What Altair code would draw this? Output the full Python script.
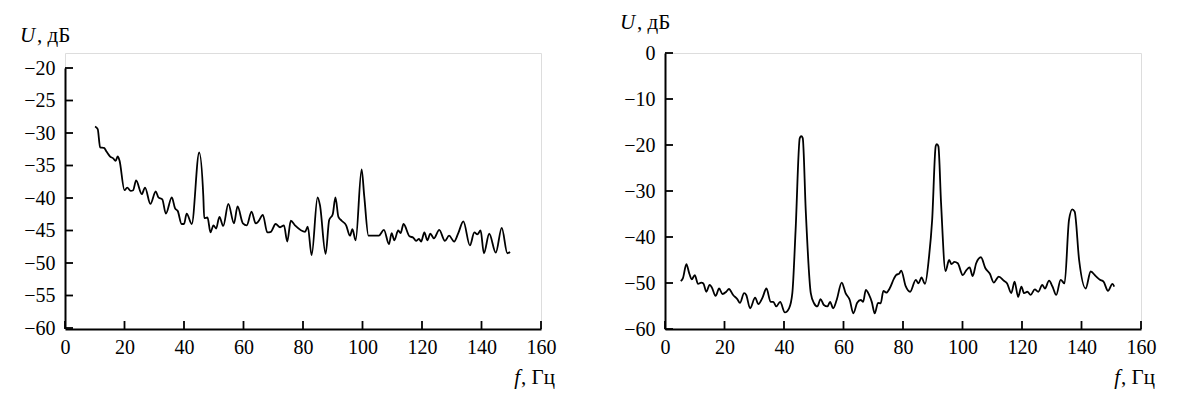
import altair as alt
import pandas as pd

# ---- data ----
left_f = [10.1, 11.0, 11.8, 13.1, 14.0, 15.1, 16.2, 17.0, 17.7, 18.3, 20.0, 20.9, 22.1, 22.9, 23.9,
          25.8, 26.9, 28.7, 30.5, 31.4, 32.7, 33.9, 35.9, 37.0, 37.9, 39.2, 40.0, 40.9, 42.6, 45.1,
          46.5, 46.8, 47.9, 48.9, 49.9, 50.8, 51.9, 53.2, 54.9, 56.8, 58.0, 59.8, 61.1, 62.7, 64.1,
          65.0, 66.5, 68.0, 69.2, 70.8, 72.3, 73.6, 74.7, 75.9, 77.3, 80.7, 81.6, 82.9, 84.9, 85.7,
          87.6, 88.8, 90.0, 90.9, 91.9, 93.0, 94.5, 95.8, 96.6, 97.7, 99.7, 100.6, 102.0, 103.6,
          105.5, 107.2, 108.9, 109.8, 110.7, 112.0, 112.8, 113.8, 115.8, 117.1, 118.0, 119.0, 119.7,
          120.8, 121.8, 122.8, 124.0, 125.8, 127.7, 129.1, 130.8, 132.2, 133.9, 136.1, 137.6, 138.6,
          139.7, 140.8, 142.6, 144.8, 146.8, 148.7, 149.6]
left_u = [-29.0, -29.4, -32.2, -32.3, -32.9, -33.6, -33.9, -34.3, -33.6, -34.2, -38.8, -38.4, -38.9, -38.8, -37.3,
          -39.4, -38.4, -40.9, -39.0, -39.9, -40.2, -42.4, -39.9, -41.6, -42.0, -44.0, -44.0, -42.4, -44.0, -33.0,
          -39.8, -43.1, -43.0, -45.3, -44.2, -44.7, -42.9, -44.3, -40.9, -43.9, -41.3, -43.9, -44.2, -42.1, -43.9,
          -43.6, -42.6, -45.3, -45.2, -44.0, -44.5, -44.2, -46.7, -43.5, -44.2, -45.2, -44.4, -48.8, -39.9, -41.1,
          -48.6, -43.4, -42.5, -39.9, -42.9, -43.5, -44.2, -45.8, -44.8, -46.5, -35.6, -39.8, -45.8, -45.8,
          -45.8, -44.9, -47.1, -45.4, -46.5, -45.0, -45.4, -44.0, -45.9, -46.1, -46.6, -46.3, -46.7,
          -45.3, -46.5, -45.5, -46.2, -44.9, -46.6, -45.8, -46.7, -45.4, -43.6, -47.3, -45.3, -45.6,
          -45.0, -48.5, -45.5, -48.4, -44.6, -48.5, -48.3]

right_f = [5.3, 6.0, 7.2, 8.1, 9.0, 10.0, 11.1, 12.2, 12.9, 13.9, 15.0, 15.7, 17.0, 18.2, 19.3, 20.6, 21.5,
           22.9, 24.3, 25.2, 26.6, 27.3, 28.6, 30.3, 31.4, 32.7, 34.1, 35.5, 36.4, 37.4, 38.7, 40.3, 41.7,
           42.8, 43.9, 45.3, 45.8, 46.3, 47.3, 49.0, 50.1, 51.2, 52.3, 53.4, 54.6, 55.5, 56.5, 57.7, 59.4,
           60.7, 62.1, 63.3, 64.6, 65.8, 66.6, 67.5, 68.6, 69.5, 70.5, 71.6, 72.5, 73.4, 74.4, 75.5, 77.0,
           77.8, 78.7, 79.4, 80.9, 82.4, 84.3, 85.2, 86.2, 87.4, 88.7, 89.8, 91.0, 91.4, 91.9, 92.8, 94.3,
           95.5, 96.3, 97.3, 98.4, 100.1, 101.3, 102.4, 103.4, 104.6, 106.2, 107.7, 109.2, 110.5, 112.2,
           113.9, 115.0, 116.4, 117.5, 118.7, 119.8, 120.7, 121.8, 122.9, 124.3, 125.5, 126.8, 127.7, 129.1,
           130.2, 131.5, 133.0, 134.3, 135.8, 136.9, 137.7, 139.2, 141.4, 143.1, 144.8, 146.2, 147.4, 148.9,
           150.4, 151.0]
right_u = [-49.6, -49.0, -45.9, -47.8, -49.2, -48.3, -50.2, -49.9, -50.1, -51.9, -50.4, -50.9, -52.8, -51.2, -52.4, -51.9, -51.3,
           -52.6, -53.5, -54.3, -52.2, -52.6, -55.5, -53.2, -54.6, -53.3, -51.2, -54.1, -54.1, -55.1, -54.1, -56.4, -55.5,
           -52.2, -38.5, -18.5, -18.1, -18.5, -34.1, -52.2, -54.4, -55.1, -53.5, -54.8, -55.1, -54.1, -55.5, -53.7, -49.9,
           -52.2, -53.7, -56.6, -54.3, -53.7, -54.1, -51.5, -52.6, -54.1, -56.6, -54.3, -54.4, -51.7, -52.1, -51.2, -49.0,
           -48.2, -48.0, -47.3, -50.7, -51.9, -49.3, -50.1, -48.8, -50.2, -44.6, -36.3, -20.2, -19.8, -20.3, -32.7, -47.4,
           -45.0, -45.9, -45.4, -45.7, -48.3, -47.2, -46.6, -48.5, -45.7, -44.4, -46.8, -48.0, -49.9, -48.6,
           -49.5, -50.1, -52.2, -49.7, -53.0, -50.8, -52.2, -51.9, -52.6, -51.4, -51.9, -50.4, -51.2, -49.5,
           -50.7, -52.6, -49.3, -50.1, -36.3, -34.0, -34.5, -45.0, -51.2, -47.5, -48.5, -49.3, -49.7, -51.7,
           -50.2, -50.8]

x_ticks = [0, 20, 40, 60, 80, 100, 120, 140, 160]
left_y_ticks = [-20, -25, -30, -35, -40, -45, -50, -55, -60]
right_y_ticks = [0, -10, -20, -30, -40, -50, -60]

y_title = ["U", ", дБ"]
x_title = ["f", ", Гц"]

W = 476
H = 276
FONT = "Liberation Serif"
FS = 20
TFS = 21


def panel(fs, us, yticks, ydom, yrange, title_y):
    df = pd.DataFrame({"f": fs, "u": us})
    xs = alt.Scale(domain=[0, 160], nice=False, zero=False)
    ys = alt.Scale(domain=ydom, range=yrange, nice=False, zero=False)
    xaxis = alt.Axis(values=x_ticks, ticks=False, tickSize=0, grid=False, domainColor="black",
                     domainWidth=2, labelFont=FONT, labelFontSize=FS, labelColor="black",
                     labelPadding=8, title=None, labelFlush=False)
    yaxis = alt.Axis(values=yticks, ticks=False, tickSize=0, grid=False, domainColor="black",
                     domainWidth=2, labelFont=FONT, labelFontSize=FS, labelColor="black",
                     labelPadding=10, title=None, labelFlush=False)
    line = alt.Chart(df).mark_line(color="black", strokeWidth=1.8, interpolate="monotone").encode(
        x=alt.X("f:Q", scale=xs, axis=xaxis),
        y=alt.Y("u:Q", scale=ys, axis=yaxis),
    )
    ytk = alt.Chart(pd.DataFrame({"v": yticks})).mark_rule(color="black", strokeWidth=1.8).encode(
        y=alt.Y("v:Q", scale=ys, axis=yaxis),
        x=alt.value(0), x2=alt.value(8),
    )
    xtk = alt.Chart(pd.DataFrame({"v": x_ticks})).mark_rule(color="black", strokeWidth=1.8).encode(
        x=alt.X("v:Q", scale=xs, axis=xaxis),
        y=alt.value(H), y2=alt.value(H - 8),
    )
    one = pd.DataFrame({"k": [0]})
    t1 = alt.Chart(one).mark_text(font=FONT, fontSize=TFS, fontStyle="italic", align="left",
                                  baseline="alphabetic", color="black").encode(
        x=alt.value(-45), y=alt.value(title_y), text=alt.value(y_title[0]))
    t2 = alt.Chart(one).mark_text(font=FONT, fontSize=TFS, align="left",
                                  baseline="alphabetic", color="black").encode(
        x=alt.value(-28), y=alt.value(title_y), text=alt.value(y_title[1]))
    t3 = alt.Chart(one).mark_text(font=FONT, fontSize=TFS, fontStyle="italic", align="right",
                                  baseline="alphabetic", color="black").encode(
        x=alt.value(W - 21), y=alt.value(H + 55), text=alt.value(x_title[0]))
    t4 = alt.Chart(one).mark_text(font=FONT, fontSize=TFS, align="left",
                                  baseline="alphabetic", color="black").encode(
        x=alt.value(W - 20), y=alt.value(H + 55), text=alt.value(x_title[1]))
    return alt.layer(line, ytk, xtk, t1, t2, t3, t4).properties(width=W, height=H)


left = panel(left_f, left_u, left_y_ticks, [-60, -20], [H - 1, 15], -11)
right = panel(right_f, right_u, right_y_ticks, [-60, 0], [H, 0], -24)

chart = alt.hconcat(left, right, spacing=124, bounds="flush").properties(
    padding={"left": 11, "top": 3, "right": 5, "bottom": 5}
).configure_view(stroke="transparent", strokeWidth=0).configure(background="white")

chart.save("out.html", embed_options={"renderer": "svg", "actions": False})
